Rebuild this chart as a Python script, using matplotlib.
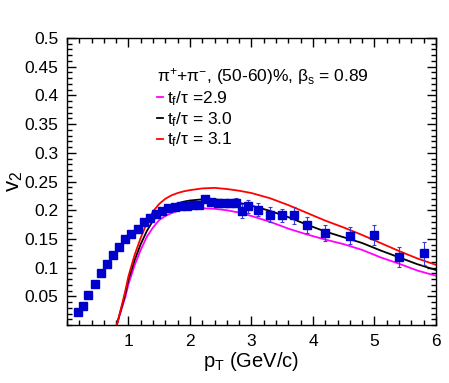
import matplotlib
matplotlib.use("Agg")
import matplotlib.pyplot as plt
from matplotlib.ticker import MultipleLocator, FormatStrFormatter

plt.rcParams["font.family"] = ["Liberation Sans", "DejaVu Sans"]
plt.rcParams["mathtext.fontset"] = "custom"
plt.rcParams["mathtext.rm"] = "Liberation Sans"
plt.rcParams["mathtext.it"] = "Liberation Sans"
plt.rcParams["mathtext.bf"] = "Liberation Sans:bold"

# measured v2 of pi+ + pi-, 50-60%
pt_data = [0.175, 0.255, 0.35, 0.455, 0.55, 0.645, 0.75, 0.85, 0.95, 1.05,
           1.15, 1.25, 1.35, 1.45, 1.55, 1.65, 1.75, 1.85, 1.95, 2.05,
           2.15, 2.25, 2.35, 2.45, 2.55, 2.65, 2.75, 2.85, 2.95, 3.1,
           3.3, 3.5, 3.7, 3.9, 4.2, 4.6, 5.0, 5.4, 5.8]
v2_data = [0.023, 0.034, 0.053, 0.072, 0.090, 0.107, 0.122, 0.136, 0.150, 0.159,
           0.168, 0.179, 0.186, 0.194, 0.199, 0.204, 0.206, 0.207, 0.208, 0.209,
           0.210, 0.219, 0.214, 0.213, 0.213, 0.212, 0.213, 0.199, 0.207, 0.201,
           0.1925, 0.191, 0.191, 0.1745, 0.161, 0.156, 0.1565, 0.119, 0.125]
v2_err = [0.002, 0.002, 0.002, 0.002, 0.002, 0.002, 0.002, 0.002, 0.002, 0.002,
          0.002, 0.002, 0.002, 0.002, 0.002, 0.002, 0.002, 0.003, 0.003, 0.003,
          0.003, 0.004, 0.004, 0.005, 0.005, 0.006, 0.008, 0.012, 0.011, 0.011,
          0.013, 0.012, 0.015, 0.014, 0.014, 0.015, 0.017, 0.017, 0.020]

# model curves for three t_f/tau values
pt_model = [0.81, 0.85, 0.9, 0.95, 1.0, 1.1, 1.2, 1.3, 1.4, 1.5,
            1.6, 1.7, 1.8, 1.9, 2.0, 2.2, 2.4, 2.6, 2.8, 3.0,
            3.3, 3.6, 3.9, 4.2, 4.5, 4.8, 5.1, 5.4, 5.7, 6.0]
v2_tf29 = [0.0, 0.015, 0.032, 0.049, 0.071, 0.104, 0.131, 0.154, 0.170, 0.183,
           0.190, 0.195, 0.199, 0.201, 0.202, 0.2035, 0.2025, 0.200, 0.196, 0.190,
           0.180, 0.168, 0.158, 0.149, 0.141, 0.131, 0.118, 0.107, 0.095, 0.086]
v2_tf30 = [0.0, 0.016, 0.035, 0.055, 0.079, 0.113, 0.141, 0.164, 0.182, 0.194,
           0.202, 0.208, 0.212, 0.215, 0.217, 0.219, 0.219, 0.217, 0.213, 0.208,
           0.199, 0.188, 0.175, 0.163, 0.153, 0.143, 0.130, 0.118, 0.106, 0.096]
v2_tf31 = [0.0, 0.016, 0.038, 0.060, 0.085, 0.122, 0.152, 0.178, 0.198, 0.211,
           0.220, 0.226, 0.230, 0.233, 0.235, 0.238, 0.239, 0.237, 0.234, 0.230,
           0.221, 0.209, 0.1955, 0.182, 0.170, 0.157, 0.143, 0.129, 0.116, 0.105]

fig = plt.figure(figsize=(4.49, 3.83), dpi=100)
ax = fig.add_axes([0.149, 0.151, 0.822, 0.750])

ax.plot(pt_model, v2_tf29, color="#ff00ff", lw=1.3, label=r"t$_{f}$/τ =2.9")
ax.plot(pt_model, v2_tf30, color="black", lw=1.3, label=r"t$_{f}$/τ = 3.0")
ax.plot(pt_model, v2_tf31, color="#ff0000", lw=1.3, label=r"t$_{f}$/τ = 3.1")
ax.errorbar(pt_data, v2_data, yerr=v2_err, fmt="s", color="#0000cc",
            ms=5.2, ecolor="#3a3ad6", elinewidth=0.8, capsize=1.5,
            capthick=0.8, zorder=5)

ax.set_xlim(0, 6)
ax.set_ylim(0, 0.5)
ax.xaxis.set_major_locator(MultipleLocator(1))
ax.xaxis.set_minor_locator(MultipleLocator(0.2))
ax.yaxis.set_major_locator(MultipleLocator(0.05))
ax.yaxis.set_minor_locator(MultipleLocator(0.01))
ax.yaxis.set_major_formatter(FormatStrFormatter("%g"))
ax.set_xticks([1, 2, 3, 4, 5, 6])
ax.set_yticks([0.05, 0.1, 0.15, 0.2, 0.25, 0.3, 0.35, 0.4, 0.45, 0.5])
ax.tick_params(which="both", direction="in", top=True, right=True, width=1.0)
ax.tick_params(which="major", length=6.5, labelsize=12.5, pad=6)
ax.tick_params(which="minor", length=3.3)
for s in ax.spines.values():
    s.set_linewidth(1.0)

ax.set_xlabel(r"p$_{T}$ (GeV/c)", fontsize=14.5, labelpad=1)
ax.set_ylabel(r"v$_{2}$", fontsize=16, labelpad=0)

leg = ax.legend(loc="upper left", bbox_to_anchor=(0.245, 0.902), frameon=False,
                fontsize=12.5, handlelength=0.35, handletextpad=0.2,
                labelspacing=0.12, borderaxespad=0, borderpad=0,
                title=r"π$^{+}$+π$^{-}$, (50-60)%, β$_{s}$ = 0.89",
                title_fontsize=12.5, alignment="left")

fig.savefig("out.png", dpi=100)
